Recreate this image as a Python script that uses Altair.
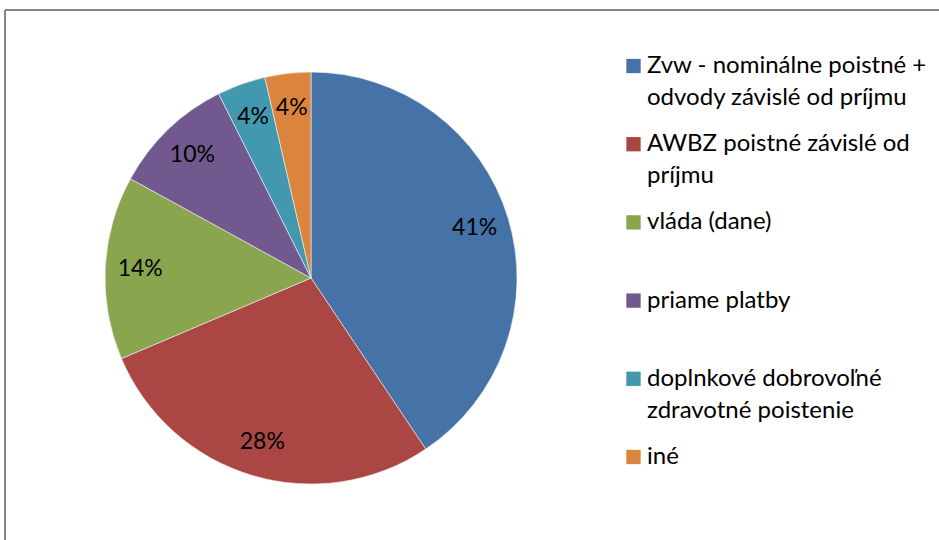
import altair as alt
import pandas as pd

categories = [
    "Zvw - nominálne poistné +\nodvody závislé od príjmu",
    "AWBZ poistné závislé od\npríjmu",
    "vláda (dane)",
    "priame platby",
    "doplnkové dobrovoľné\nzdravotné poistenie",
    "iné",
]
shares = [40.6, 28.0, 14.4, 9.6, 3.8, 3.6]
labels = ["41%", "28%", "14%", "10%", "4%", "4%"]
colors = ["#4572A7", "#AA4643", "#89A54E", "#71588F", "#4198AF", "#DB843D"]

df = pd.DataFrame({
    "cat": categories,
    "share": shares,
    "label": labels,
    "idx": list(range(len(categories))),
})

FONT = "Lato"
color = alt.Color("cat:N", scale=alt.Scale(domain=categories, range=colors), legend=None)
theta = alt.Theta("share:Q", stack=True)
order = alt.Order("idx:Q")
cx, cy = alt.value(311), alt.value(278)

base = alt.Chart(df)

pie = base.mark_arc(outerRadius=206, stroke="#f4f4f4", strokeWidth=0.6).encode(
    theta=theta, color=color, order=order, x=cx, y=cy
)
pie_text = base.mark_text(radius=171, fontSize=23, font=FONT, color="black").encode(
    theta=theta, order=order, text="label:N", x=cx, y=cy
)

ly = alt.Y("cat:N", sort=categories, axis=None,
           scale=alt.Scale(type="point", domain=categories, range=[66, 457], padding=0))
leg_sq = base.mark_square(size=205, opacity=1).encode(x=alt.value(633.5), y=ly, color=color)
leg_txt = base.mark_text(align="left", baseline="middle", lineBreak="\n", lineHeight=32,
                         fontSize=24, font=FONT, color="black").encode(
    x=alt.value(647), y=ly, text="cat:N"
)

one = pd.DataFrame({"a": [0]})
border_top = alt.Chart(one).mark_rule(color="#868686", strokeWidth=2).encode(
    x=alt.value(5), x2=alt.value(939), y=alt.value(10)
)
border_left = alt.Chart(one).mark_rule(color="#868686", strokeWidth=2).encode(
    x=alt.value(5), y=alt.value(10), y2=alt.value(540)
)

chart = alt.layer(border_top, border_left, pie, pie_text, leg_sq, leg_txt).properties(
    width=939, height=540, padding=0, autosize=alt.AutoSizeParams(type="none")
).configure_view(stroke=None)

chart.save("out.html", embed_options={"renderer": "svg", "actions": False})
